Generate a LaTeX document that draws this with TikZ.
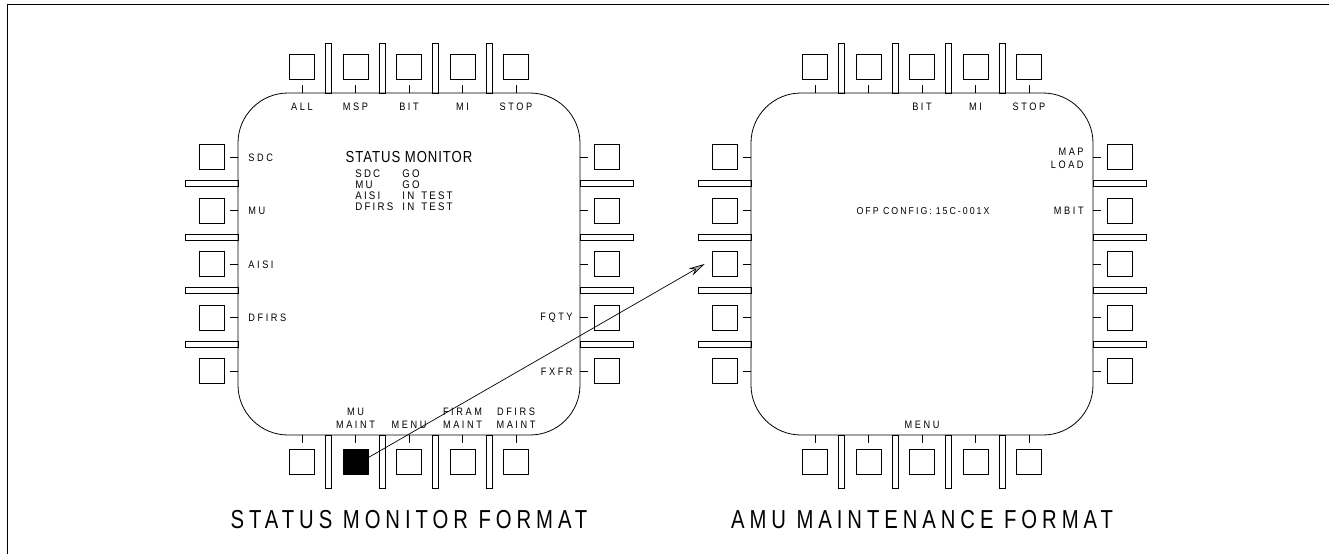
\documentclass[tikz,border=0pt]{standalone}
\usepackage{fontspec}
\usetikzlibrary{arrows.meta}
\newfontfamily\lblfont[FakeStretch=0.85,LetterSpace=24]{Liberation Sans}
\newfontfamily\tblfont[FakeStretch=0.88,LetterSpace=20]{Liberation Sans}
\newfontfamily\hdfont[FakeStretch=0.82,LetterSpace=6]{Liberation Sans}
\newfontfamily\ttlfont[FakeStretch=0.78,LetterSpace=19]{Liberation Sans}
\newcommand{\inTestTxt}{IN\kern7pt TEST}
\begin{document}
\begin{tikzpicture}[x=1pt,y=-1pt,line width=0.8pt,
  btn/.style={draw, minimum size=25pt, inner sep=0pt},
  lbl/.style={font=\lblfont\fontsize{10.8}{12.8}\selectfont, inner sep=0pt},
  tbl/.style={font=\tblfont\fontsize{11}{12}\selectfont, inner sep=0pt, anchor=west},
  hd/.style={font=\hdfont\fontsize{16}{18}\selectfont, inner sep=0pt},
  ttl/.style={font=\ttlfont\fontsize{26}{28}\selectfont, inner sep=0pt},
  disp/.style={draw, rounded corners=50pt},
  barbox/.style={draw},
  tick/.style={draw}
]
\useasboundingbox (0,0) rectangle (1330,554);
\draw[line width=1pt] (7,554) -- (7,4) -- (1329,4);
\foreach \d/\cx in {A/409,B/922}{
  \def\cy{264}
  \draw[disp] (\cx-171,\cy-171) rectangle (\cx+171,\cy+171);
  \foreach \o [count=\i] in {-107,-53.5,0,53.5,107}{
    \node[btn] (\d T\i) at (\cx+\o,\cy-197.5) {};
    \node[btn] (\d B\i) at (\cx+\o,\cy+197.5) {};
    \node[btn] (\d L\i) at (\cx-197.5,\cy+\o) {};
    \node[btn] (\d R\i) at (\cx+197.5,\cy+\o) {};
    \draw[tick] (\cx+\o,\cy-171) -- (\cx+\o,\cy-179);
    \draw[tick] (\cx+\o,\cy+171) -- (\cx+\o,\cy+179);
    \draw[tick] (\cx-171,\cy+\o) -- (\cx-179,\cy+\o);
    \draw[tick] (\cx+171,\cy+\o) -- (\cx+179,\cy+\o);
  }
  \foreach \o in {-80.25,-26.75,26.75,80.25}{
    \draw[barbox] (\cx+\o-3,\cy-171) rectangle (\cx+\o+3,\cy-221);
    \draw[barbox] (\cx+\o-3,\cy+171) rectangle (\cx+\o+3,\cy+224);
    \draw[barbox] (\cx-171,\cy+\o-3) rectangle (\cx-224,\cy+\o+3);
    \draw[barbox] (\cx+171,\cy+\o-3) rectangle (\cx+224,\cy+\o+3);
  }
}
\fill[black] (AB2.south west) rectangle (AB2.north east);
% left display labels
\foreach \o/\t [count=\i] in {-107/ALL,-53.5/MSP,0/BIT,53.5/MI,107/STOP}{
  \node[lbl] (atl\i) at (409+\o,107) {\t};
}
\foreach \y/\t [count=\i] in {157.5/SDC,211/MU,264.5/AISI,318/DFIRS}{
  \node[lbl,anchor=west] (all\i) at (248,\y) {\t};
}
\node[lbl,anchor=east] (arl4) at (573,318) {FQTY};
\node[lbl,anchor=east] (arl5) at (573,371.5) {FXFR};
\node[lbl,align=center] (abl2) at (355.5,418.5) {MU\\MAINT};
\node[lbl] (abl3) at (409,425) {MENU};
\node[lbl,align=center] (abl4) at (462.5,418.5) {FIRAM\\MAINT};
\node[lbl,align=center] (abl5) at (516,418.5) {DFIRS\\MAINT};
\node[hd] (ahd) at (409,157) {STATUS MONITOR};
\node[tbl] (tka1) at (355,173.5) {SDC};
\node[tbl] (tka2) at (355,184.5) {MU};
\node[tbl] (tka3) at (355,195.5) {AISI};
\node[tbl] (tka4) at (355,206.5) {DFIRS};
\node[tbl] (tkb1) at (402,173.5) {GO};
\node[tbl] (tkb2) at (402,184.5) {GO};
\node[tbl] (tkb3) at (402,195.5) {\inTestTxt};
\node[tbl] (tkb4) at (402,206.5) {\inTestTxt};
% right display labels
\foreach \o/\t [count=\i] in {0/BIT,53.5/MI,107/STOP}{
  \node[lbl] (btl\i) at (922+\o,107) {\t};
}
\node[lbl,align=right,anchor=east] (brl1) at (1084,158) {MAP\\LOAD};
\node[lbl,anchor=east] (brl2) at (1084,211) {MBIT};
\node[lbl] (bbl3) at (922,425) {MENU};
\node[lbl,font=\tblfont\fontsize{10}{12}\selectfont] (bofp) at (923,211) {OFP CONFIG:\kern4pt 15C-001X};
% titles
\node[ttl] (ttla) at (409,520) {STATUS MONITOR FORMAT};
\node[ttl] (ttlb) at (922,520) {AMU MAINTENANCE FORMAT};
% arrow
\draw[-{Stealth[length=16pt,width=8pt,fill=gray!60]},line width=0.7pt] ([yshift=4pt]AB2.east) -- ([xshift=-7pt]BL3.west);
\end{tikzpicture}
\end{document}
